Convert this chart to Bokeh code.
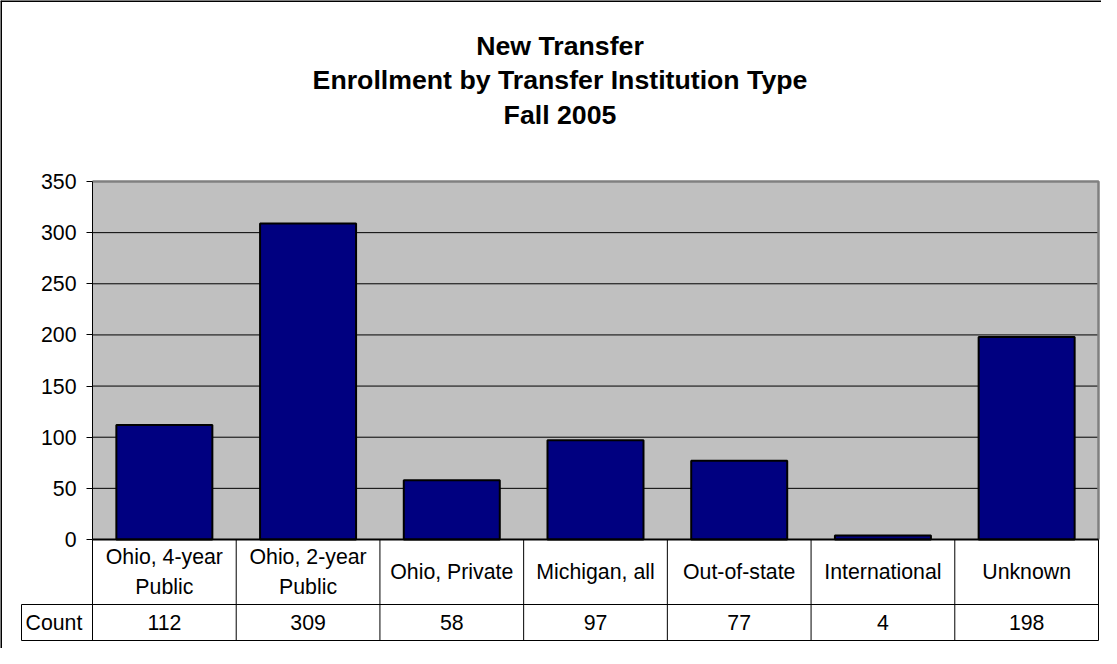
from bokeh.plotting import figure
from bokeh.models import Range1d, LinearAxis, FixedTicker, ColumnDataSource
from bokeh.core.properties import value
from bokeh.embed import file_html
from bokeh.resources import INLINE

# ---- data ----
title_lines = ["New Transfer", "Enrollment by Transfer Institution Type", "Fall 2005"]
categories = ["Ohio, 4-year\nPublic", "Ohio, 2-year\nPublic", "Ohio, Private",
              "Michigan, all", "Out-of-state", "International", "Unknown"]
counts = [112, 309, 58, 97, 77, 4, 198]
row_header = "Count"
y_ticks = [0, 50, 100, 150, 200, 250, 300, 350]

# ---- layout (canvas pixels) ----
W, H = 1101, 648
PL, PR, PT, PB = 92, 1098, 181, 539      # gray plot area
ROW1_B, ROW2_B = 604, 640                 # table row bottoms
TABLE_L = 21
YMAX = 350.0
n = len(categories)
col_w = (PR - PL) / n
k = (PB - PT) / YMAX

def ux(px):
    return (px - PL) / col_w

def vy(py):
    return (PB - py) / k

FONT = "Liberation Sans"

p = figure(width=W, height=H, output_backend="svg", toolbar_location=None,
           x_range=Range1d(ux(0), ux(W)), y_range=Range1d(vy(H), vy(0)),
           x_axis_location=None, y_axis_location=None, min_border=0,
           background_fill_color="white", border_fill_color="white")
p.outline_line_color = None
p.xgrid.visible = False
p.ygrid.visible = False

# outer chart border (left and top edges)
p.segment(x0=[ux(0), ux(0)], y0=[vy(H), vy(0)], x1=[ux(0), ux(W)], y1=[vy(0), vy(0)],
          line_color="black", line_width=3)

# gray plot area
p.quad(left=[0], right=[n], bottom=[0], top=[YMAX], fill_color="#C0C0C0", line_color=None)
grid_vals = [t for t in y_ticks if 0 < t < YMAX]
p.segment(x0=[0] * len(grid_vals), x1=[n] * len(grid_vals), y0=grid_vals, y1=grid_vals,
          line_color="black", line_width=1)
p.line(x=[0, n, n], y=[YMAX, YMAX, 0], line_color="#808080", line_width=2.5)

# bars
centers = [i + 0.5 for i in range(n)]
src = ColumnDataSource(dict(x=centers, top=counts, cat=categories,
                            lab=[str(c) for c in counts]))
p.vbar(x="x", top="top", bottom=0, width=0.668, source=src,
       fill_color="#000080", line_color="black", line_width=2)

# zero line / table top
p.segment(x0=[0], x1=[n], y0=[0], y1=[0], line_color="black", line_width=1.8)

# data table lines
bounds = list(range(n + 1))
p.segment(x0=bounds, x1=bounds, y0=[vy(ROW2_B)] * len(bounds), y1=[0] * len(bounds),
          line_color="black", line_width=1)
p.segment(x0=[ux(TABLE_L)] * 2, x1=[n] * 2, y0=[vy(ROW1_B), vy(ROW2_B)],
          y1=[vy(ROW1_B), vy(ROW2_B)], line_color="black", line_width=1)
p.segment(x0=[ux(TABLE_L)], x1=[ux(TABLE_L)], y0=[vy(ROW1_B)], y1=[vy(ROW2_B)],
          line_color="black", line_width=1)

# table texts
src.data["y1"] = [vy((PB + ROW1_B) / 2)] * n
src.data["y2"] = [vy((ROW1_B + ROW2_B) / 2)] * n
p.text(x="x", y="y1", text="cat", source=src, text_align="center", text_baseline="middle",
       text_font=value(FONT), text_font_size="21.3px", text_color="black",
       text_line_height=1.25)
p.text(x="x", y="y2", text="lab", source=src, text_align="center", text_baseline="middle",
       text_font=value(FONT), text_font_size="21.3px", text_color="black")
p.text(x=[ux(TABLE_L + 4)], y=[vy((ROW1_B + ROW2_B) / 2)], text=[row_header],
       text_align="left", text_baseline="middle", text_font=value(FONT),
       text_font_size="21.3px", text_color="black")

# title
title_base = [45, 79.5, 114]
p.text(x=[ux(559.5)] * 3, y=[vy(b) for b in title_base], text=title_lines,
       text_align="center", text_baseline="alphabetic", text_font=value(FONT),
       text_font_size="26.7px", text_font_style="bold", text_color="black")

# y axis at the left edge of the plot area
yaxis = LinearAxis(fixed_location=0, bounds=(0, YMAX), ticker=FixedTicker(ticks=y_ticks))
yaxis.major_tick_out = 6
yaxis.major_tick_in = 0
yaxis.minor_tick_out = 0
yaxis.minor_tick_in = 0
yaxis.axis_line_color = "black"
yaxis.axis_line_width = 1
yaxis.major_tick_line_color = "black"
yaxis.major_label_standoff = 10
yaxis.major_label_text_font = FONT
yaxis.major_label_text_font_size = "21.3px"
yaxis.major_label_text_color = "black"
p.add_layout(yaxis, "left")

open("out.html", "w").write(file_html(p, INLINE))
